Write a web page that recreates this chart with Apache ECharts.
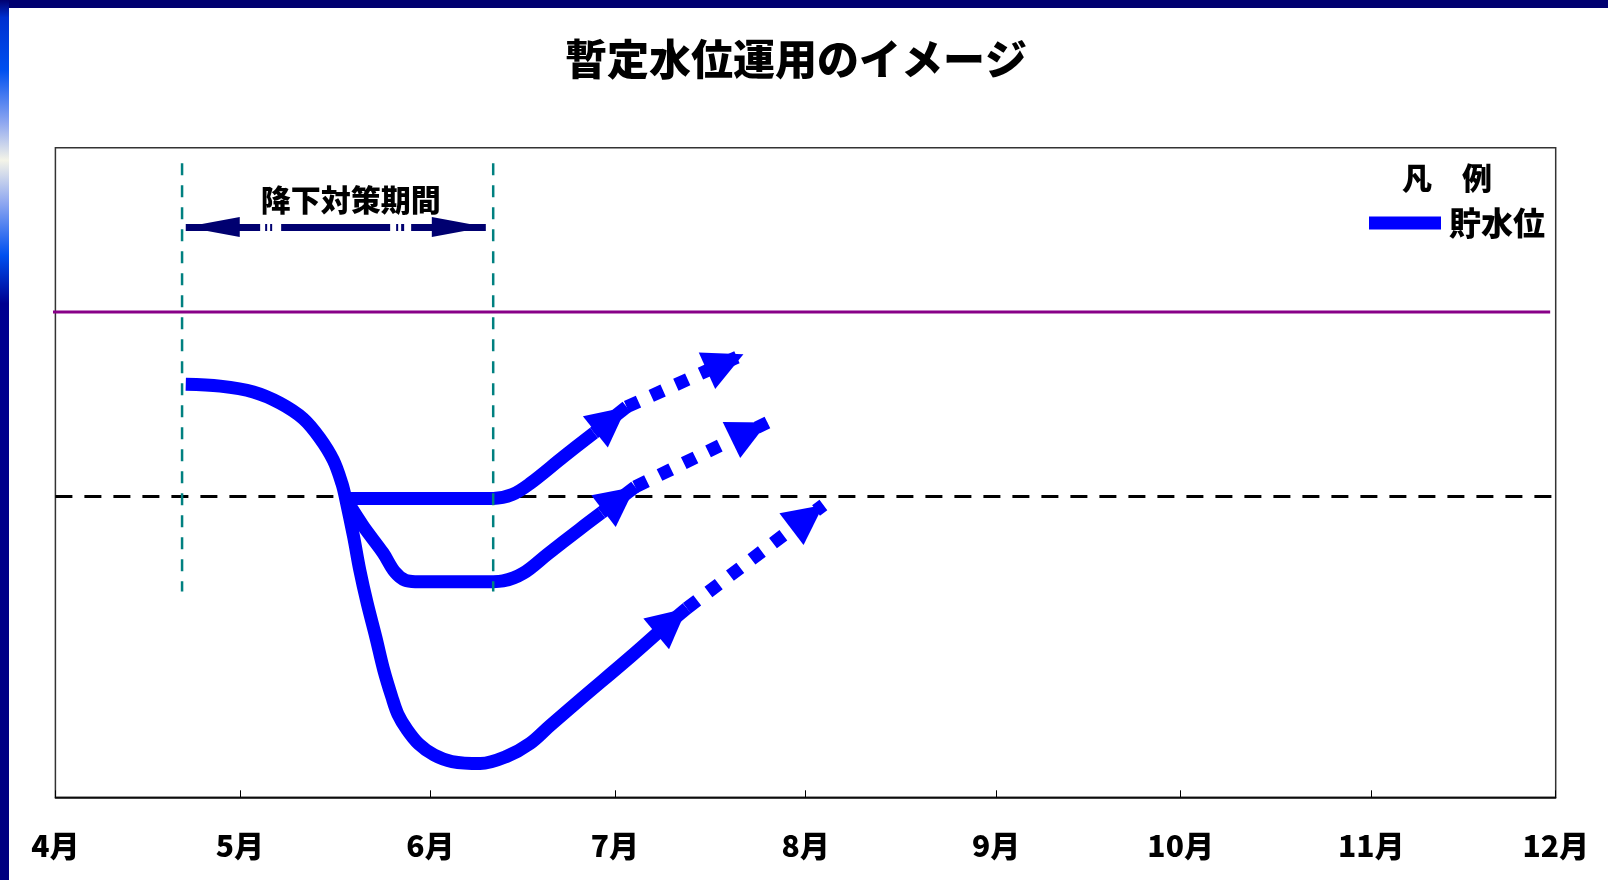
<!DOCTYPE html>
<html><head><meta charset="utf-8">
<script src="https://cdn.jsdelivr.net/npm/echarts@6/dist/echarts.min.js"></script>
<style>html,body{margin:0;padding:0;background:#fff}#c{width:1608px;height:880px}</style>
</head><body><div id="c"></div>
<script>
const FONT = '"Noto Sans CJK JP", "Noto Sans", sans-serif';
const titleText = '暫定水位運用のイメージ';
const legendTitle = '凡　例';
const seriesName = '貯水位';
const periodLabel = '降下対策期間';
const monthLabels = ['4月','5月','6月','7月','8月','9月','10月','11月','12月'];
const monthTickDays = [0, 30, 61, 91, 122, 153, 183, 214, 244];

// common descent (days from Apr 1, level in % of plot height)
const stemDays   = [21.2, 26.8, 32.2, 36.5, 40.3, 43.0, 45.2, 46.6, 47.2];
const stemLevels = [63.6, 63.3, 62.4, 60.7, 58.3, 55.3, 51.9, 48.3, 46.0];
// lowest branch
const lowDays    = [48.5, 49.5, 50.7, 52.1, 53.4, 54.7, 55.7, 57.2, 59.1, 61.6, 64.5, 69.1, 73.4, 77.2, 80.4, 85.3, 93.5, 98.4];
const lowLevels  = [40.1, 35.0, 29.9, 24.7, 19.6, 15.5, 12.8, 10.4, 8.2, 6.5, 5.5, 5.2, 6.3, 8.3, 11.0, 15.0, 21.6, 25.7];
// upper branch
const highDays   = [47.2, 71.2, 74.3, 77.2, 82.6, 87.6];
const highLevels = [46.0, 46.0, 46.6, 48.3, 52.4, 56.1];
// middle branch
const midDays    = [47.2, 50.1, 53.3, 55.2, 56.9, 58.5, 71.2, 72.8, 76.1, 80.0, 85.3, 88.8];
const midLevels  = [46.0, 41.7, 37.6, 34.7, 33.4, 33.2, 33.2, 33.3, 34.5, 37.4, 41.3, 43.8];
// arrows: [arrow base, tip of solid arrow, tip of dotted arrow]
const highArrow = [[87.6, 56.1], [92.9, 60.1], [111.9, 68.2]];
const midArrow  = [[88.8, 43.8], [94.3, 47.8], [115.8, 57.7]];
const lowArrow  = [[98.4, 25.7], [102.7, 29.1], [124.9, 45.0]];

const upperLevel = 74.7;
const upperLineDays = [-0.9, 243.1];
const targetLevel = 46.3;
const periodGuideDays = [20.6, 71.2];
const periodGuideLevels = [97.6, 31.7];
const periodArrowDays = [21.2, 70.0];
const periodArrowLevel = 87.8;

const BLUE = '#0000FF';
const NAVY = '#000070';
const zip = (a, b) => a.map((v, i) => [v, b[i]]);

function arrowMarks(arrow) {
  return {
    silent: true, animation: false,
    symbol: ['none', 'triangle'],
    symbolSize: [40, 40],
    symbolOffset: [[0, 0], [0, 20]],
    label: { show: false },
    data: [
      [{ coord: arrow[0], lineStyle: { type: 'solid', width: 13, color: BLUE } }, { coord: arrow[1] }],
      [{ coord: arrow[1], lineStyle: { type: [13, 14], width: 13, color: BLUE, cap: 'butt' } }, { coord: arrow[2] }]
    ]
  };
}
function blueSeries(data, arrow) {
  return {
    type: 'line', name: seriesName, data, symbol: 'none', smooth: 0.35,
    lineStyle: { color: BLUE, width: 13, cap: 'butt', join: 'round' },
    itemStyle: { color: BLUE }, z: 3, silent: true,
    markLine: arrowMarks(arrow)
  };
}
function guide(name, data, lineStyle, z, extra) {
  return Object.assign({ type: 'line', name, data, symbol: 'none', clip: false, silent: true, lineStyle, z }, extra || {});
}
const periodEnd = { symbol: 'triangle', symbolSize: [20, 54], symbolOffset: [0, 27] };

const chart = echarts.init(document.getElementById('c'), null, { renderer: 'canvas' });
chart.setOption({
  animation: false,
  backgroundColor: '#fff',
  title: {
    text: titleText, left: 565, top: 38, padding: 0,
    textStyle: { fontSize: 42, fontWeight: 900, color: '#000', fontFamily: FONT }
  },
  legend: {
    data: [{ name: seriesName, icon: 'rect' }], padding: 0,
    left: 1369, top: 207, itemWidth: 72, itemHeight: 13, selectedMode: false,
    textStyle: { fontSize: 32, fontWeight: 900, color: '#000', fontFamily: FONT, padding: [0, 0, 0, 3] }
  },
  grid: {
    show: true, left: 55.4, right: 52.3, top: 147.7, bottom: 82.7,
    borderColor: '#333', borderWidth: 1.5, backgroundColor: 'transparent'
  },
  xAxis: {
    type: 'value', min: 0, max: 244,
    axisLine: { lineStyle: { color: '#000', width: 1.5 } },
    axisTick: { show: true, inside: true, length: 7, customValues: monthTickDays, lineStyle: { color: '#000', width: 1 } },
    axisLabel: {
      customValues: monthTickDays, margin: 33, showMinLabel: true, showMaxLabel: true,
      formatter: v => monthLabels[monthTickDays.indexOf(v)] || '',
      fontSize: 30, fontWeight: 900, color: '#000', fontFamily: FONT
    },
    splitLine: { show: false }
  },
  yAxis: { type: 'value', min: 0, max: 100, show: false, splitLine: { show: false } },
  graphic: [
    { type: 'rect', shape: { x: 0, y: 0, width: 1608, height: 8 }, style: { fill: NAVY }, z: 100 },
    { type: 'rect', shape: { x: 0, y: 0, width: 9, height: 880 }, z: 101,
      style: { fill: new echarts.graphic.LinearGradient(0, 0, 0, 1, [
        { offset: 0, color: '#000070' }, { offset: 0.02, color: '#0030d0' },
        { offset: 0.08, color: '#0050f0' }, { offset: 0.14, color: '#90a8f0' },
        { offset: 0.182, color: '#f4f4e8' }, { offset: 0.23, color: '#90a8f0' },
        { offset: 0.29, color: '#0050f0' }, { offset: 0.345, color: '#000090' },
        { offset: 1, color: '#000080' }]) } },
    { type: 'text', z: 50, style: { text: legendTitle, x: 1447, y: 178, align: 'center', verticalAlign: 'middle',
      fontSize: 30, fontWeight: 900, fontFamily: FONT, fill: '#000' } }
  ],
  series: [
    guide('upper', upperLineDays.map(d => [d, upperLevel]), { color: '#880088', width: 3 }, 2),
    guide('target', [monthTickDays[0], monthTickDays[monthTickDays.length - 1]].map(d => [d, targetLevel]),
      { color: '#000', width: 3, type: [17, 12] }, 2, {
        markLine: {
          silent: true, animation: false,
          symbol: ['triangle', 'triangle'],
          lineStyle: { color: NAVY, width: 7, type: [74.4, 5, 2, 3, 2, 9, 109, 6, 2, 3, 3, 7, 80] },
          label: { show: true, position: 'middle', formatter: periodLabel, distance: 12, padding: [0, 0, 0, 30],
            fontSize: 30, fontWeight: 900, color: '#000', fontFamily: FONT },
          data: [[Object.assign({ coord: [periodArrowDays[0], periodArrowLevel] }, periodEnd),
                   Object.assign({ coord: [periodArrowDays[1], periodArrowLevel] }, periodEnd)]]
        }
      }),
    blueSeries(zip(stemDays.concat(lowDays), stemLevels.concat(lowLevels)), lowArrow),
    blueSeries(zip(highDays, highLevels), highArrow),
    blueSeries(zip(midDays, midLevels), midArrow),
    guide('guideStart', periodGuideLevels.map(l => [periodGuideDays[0], l]), { color: '#008080', width: 2.5, type: [12, 10] }, 4),
    guide('guideEnd', periodGuideLevels.map(l => [periodGuideDays[1], l]), { color: '#008080', width: 2.5, type: [12, 10] }, 4)
  ]
});
</script></body></html>
